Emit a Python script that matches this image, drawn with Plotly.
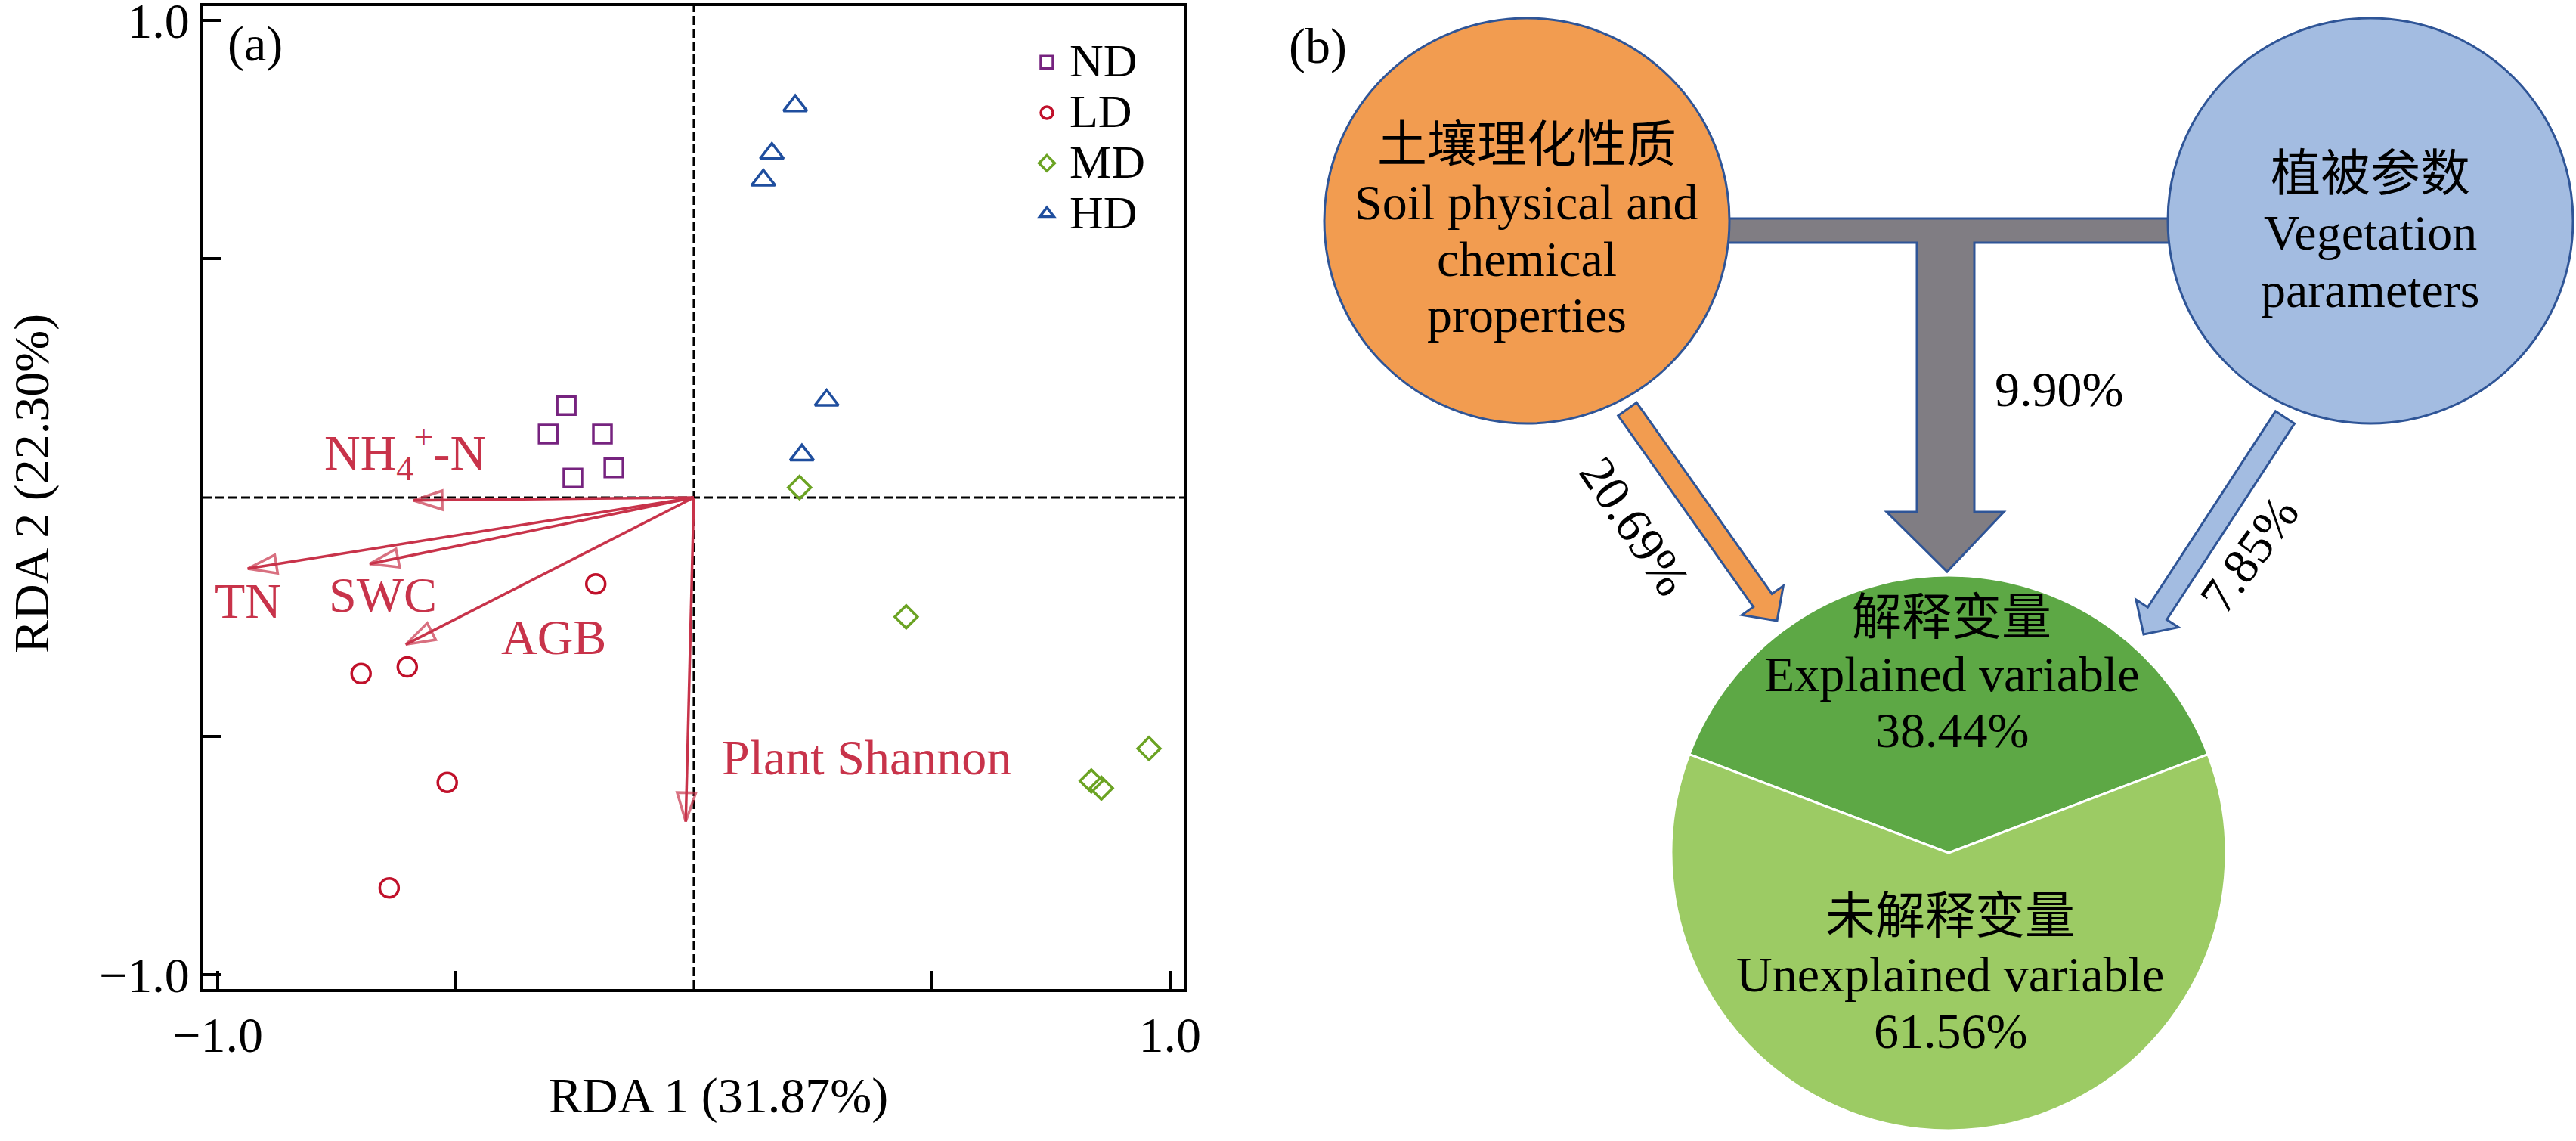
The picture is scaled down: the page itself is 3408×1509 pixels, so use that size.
import numpy as np
import plotly.graph_objects as go

# ---------------- Panel (a) data: RDA site scores ----------------
groups = ["ND", "LD", "MD", "HD"]
nd_x = [-0.268, -0.306, -0.192, -0.168, -0.254]
nd_y = [0.193, 0.133, 0.133, 0.062, 0.041]
ld_x = [-0.206, -0.699, -0.602, -0.518, -0.640]
ld_y = [-0.181, -0.369, -0.355, -0.597, -0.818]
md_x = [0.222, 0.446, 0.956, 0.835, 0.856]
md_y = [0.021, -0.250, -0.526, -0.594, -0.609]
hd_x = [0.213, 0.164, 0.146, 0.279, 0.227]
hd_y = [0.821, 0.721, 0.665, 0.204, 0.089]

# environmental vectors (arrow tips)
env_names = ["NH<sub>4</sub><sup>+</sup>-N", "TN", "SWC", "AGB", "Plant Shannon"]
env_x = [-0.589, -0.937, -0.681, -0.605, -0.017]
env_y = [-0.006, -0.149, -0.139, -0.308, -0.679]

# axis labels
x_title = "RDA 1 (31.87%)"
y_title = "RDA 2 (22.30%)"
tick_vals = [-1.0, 1.0]
tick_text = ["\u22121.0", "1.0"]
minor_vals = [-0.5, 0.5]

# ---------------- Panel (b) data: variation partitioning ----------------
soil_only = 20.69
shared = 9.90
veg_only = 7.85
explained = 38.44
unexplained = 61.56
soil_label = ["土壤理化性质", "Soil physical and", "chemical", "properties"]
veg_label = ["植被参数", "Vegetation", "parameters"]
expl_label = ["解释变量", "Explained variable"]
unexpl_label = ["未解释变量", "Unexplained variable"]

# ---------------- styles / layout helpers ----------------
W, H = 3408, 1509
FONT = "Liberation Serif, 'Times New Roman', Times, 'Noto Sans CJK SC', serif"
FS = 66
C_ND, C_LD, C_MD, C_HD = "#76237F", "#C0102A", "#6BA323", "#1F4E9E"
C_ARROW = "#C8334A"
C_EDGE = "#2F5597"
C_ORANGE, C_BLUE, C_GRAY = "#F29C50", "#A3BCE1", "#807D83"
C_DKGREEN, C_LTGREEN = "#5DA845", "#9CCB64"


def pxx(x):
    return x / W


def pyy(y):
    return 1 - y / H


fig = go.Figure()

# scatter groups
specs = [
    (nd_x, nd_y, "ND", C_ND, "square-open", 24),
    (ld_x, ld_y, "LD", C_LD, "circle-open", 25),
    (md_x, md_y, "MD", C_MD, "diamond-open", 23),
    (hd_x, hd_y, "HD", C_HD, "triangle-up-open", 27),
]
for xs, ys, name, col, sym, sz in specs:
    fig.add_trace(go.Scatter(
        x=xs, y=ys, mode="markers",
        name=f"<span style='font-size:62px'>{name}</span>",
        marker=dict(symbol=sym, size=sz, color=col, line=dict(color=col, width=3.5)),
        hoverinfo="skip",
    ))

# environmental arrows
for ex, ey in zip(env_x, env_y):
    fig.add_trace(go.Scatter(
        x=[0, ex], y=[0, ey], mode="lines+markers", showlegend=False,
        line=dict(color=C_ARROW, width=3.5),
        marker=dict(symbol="arrow-open", size=[0, 40], angleref="previous",
                    color=C_ARROW, line=dict(color=C_ARROW, width=3.5)),
        hoverinfo="skip",
    ))

# arrow labels (positions relative to arrows)
label_pos = [(-0.606, 0.094), (-0.937, -0.217), (-0.654, -0.203), (-0.294, -0.293), (0.363, -0.544)]
annotations = []
for name, (lx, ly) in zip(env_names, label_pos):
    annotations.append(dict(x=lx, y=ly, xref="x", yref="y", text=name, showarrow=False,
                            font=dict(family=FONT, size=FS, color=C_ARROW),
                            xanchor="center", yanchor="middle"))

# pie for explained / unexplained
fig.add_trace(go.Pie(
    values=[explained, unexplained], labels=["Explained", "Unexplained"],
    sort=False, direction="clockwise", rotation=-explained * 3.6 / 2,
    marker=dict(colors=[C_DKGREEN, C_LTGREEN], line=dict(color="white", width=3)),
    textinfo="none", hoverinfo="skip", showlegend=False,
    domain=dict(x=[pxx(2578 - 367), pxx(2578 + 367)], y=[pyy(1495), pyy(761)]),
))

shapes = []
# zero dashed lines
shapes.append(dict(type="line", xref="x", yref="y domain", x0=0, x1=0, y0=0, y1=1,
                   line=dict(color="black", width=3, dash="12px,5px"), layer="below"))
shapes.append(dict(type="line", xref="x domain", yref="y", x0=0, x1=1, y0=0, y1=0,
                   line=dict(color="black", width=3, dash="12px,5px"), layer="below"))


def ppath(points):
    s = "M " + " L ".join(f"{pxx(x):.5f},{pyy(y):.5f}" for x, y in points) + " Z"
    return s


# gray T connector (shared fraction)
t_pts = [(2200, 289), (2950, 289), (2950, 321), (2612, 321), (2612, 677), (2651, 677),
         (2576, 756), (2496, 677), (2536, 677), (2536, 321), (2200, 321)]
shapes.append(dict(type="path", xref="paper", yref="paper", path=ppath(t_pts),
                   fillcolor=C_GRAY, line=dict(color=C_EDGE, width=3)))

# big circles
for cx, cy, r, col in [(2020, 292, 268, C_ORANGE), (3136, 292, 268, C_BLUE)]:
    shapes.append(dict(type="circle", xref="paper", yref="paper",
                       x0=pxx(cx - r), x1=pxx(cx + r), y0=pyy(cy + r), y1=pyy(cy - r),
                       fillcolor=col, line=dict(color=C_EDGE, width=3)))


def block_arrow(start, tip, w=30, hw=67, hl=33):
    s = np.array(start, float)
    t = np.array(tip, float)
    d = (t - s) / np.linalg.norm(t - s)
    n = np.array([-d[1], d[0]])
    b = t - d * hl
    pts = [s + n * w / 2, b + n * w / 2, b + n * hw / 2, t, b - n * hw / 2, b - n * w / 2, s - n * w / 2]
    return [tuple(p) for p in pts]


shapes.append(dict(type="path", xref="paper", yref="paper",
                   path=ppath(block_arrow((2153, 541), (2351, 821))),
                   fillcolor=C_ORANGE, line=dict(color=C_EDGE, width=3)))
shapes.append(dict(type="path", xref="paper", yref="paper",
                   path=ppath(block_arrow((3023, 552), (2836, 839))),
                   fillcolor=C_BLUE, line=dict(color=C_EDGE, width=3)))


def ptext(x, y, text, size=66, angle=0, color="black"):
    return dict(x=pxx(x), y=pyy(y), xref="paper", yref="paper", text=text, showarrow=False,
                font=dict(family=FONT, size=size, color=color), textangle=angle,
                xanchor="center", yanchor="middle")


# panel letters and axis titles
annotations.append(ptext(337, 58, "(a)"))
annotations.append(ptext(1744, 61, "(b)"))
annotations.append(ptext(950, 1449, x_title))
annotations.append(ptext(42, 640, y_title, angle=-90))

# circle texts
for yy, t in zip([192, 267, 342, 417], soil_label):
    annotations.append(ptext(2020, yy, t))
for yy, t in zip([229, 307, 383], veg_label):
    annotations.append(ptext(3136, yy, t))
# percentages
annotations.append(ptext(2724, 514, f"{shared:.2f}%"))
annotations.append(ptext(2163, 695, f"{soil_only:.2f}%", angle=56))
annotations.append(ptext(2975, 733, f"{veg_only:.2f}%", angle=-54))
# pie texts
for yy, t in zip([816, 891, 966], expl_label + [f"{explained:.2f}%"]):
    annotations.append(ptext(2582, yy, t))
for yy, t in zip([1211, 1288, 1363], unexpl_label + [f"{unexplained:.2f}%"]):
    annotations.append(ptext(2580, yy, t))

axis_common = dict(
    showgrid=False, zeroline=False, showline=True, linecolor="black", linewidth=4,
    mirror=True, ticks="inside", ticklen=24, tickwidth=4, tickcolor="black",
    tickvals=tick_vals, ticktext=tick_text, automargin=False,
    ticklabeloverflow="allow",
    minor=dict(tickvals=minor_vals, ticks="inside", ticklen=24, tickwidth=4,
               tickcolor="black", showgrid=False),
    tickfont=dict(family=FONT, size=FS, color="black"),
)

fig.update_layout(
    width=W, height=H,
    margin=dict(l=0, r=0, t=0, b=0, pad=0, autoexpand=False),
    paper_bgcolor="white", plot_bgcolor="white",
    font=dict(family=FONT, size=FS, color="black"),
    xaxis=dict(domain=[pxx(268), pxx(1566)], range=[-1.032, 1.029], **axis_common),
    yaxis=dict(domain=[pyy(1308), pyy(8)], range=[-1.030, 1.030], **axis_common),
    legend=dict(x=pxx(1355), y=pyy(44), xanchor="left", yanchor="top",
                font=dict(family=FONT, size=49, color="black"),
                bgcolor="rgba(0,0,0,0)", itemsizing="trace", itemwidth=50),
    shapes=shapes,
    annotations=annotations,
)

fig.write_html("out.html", config={"displayModeBar": False},
               post_script="document.body.style.margin='0';document.body.style.overflow='hidden';")
